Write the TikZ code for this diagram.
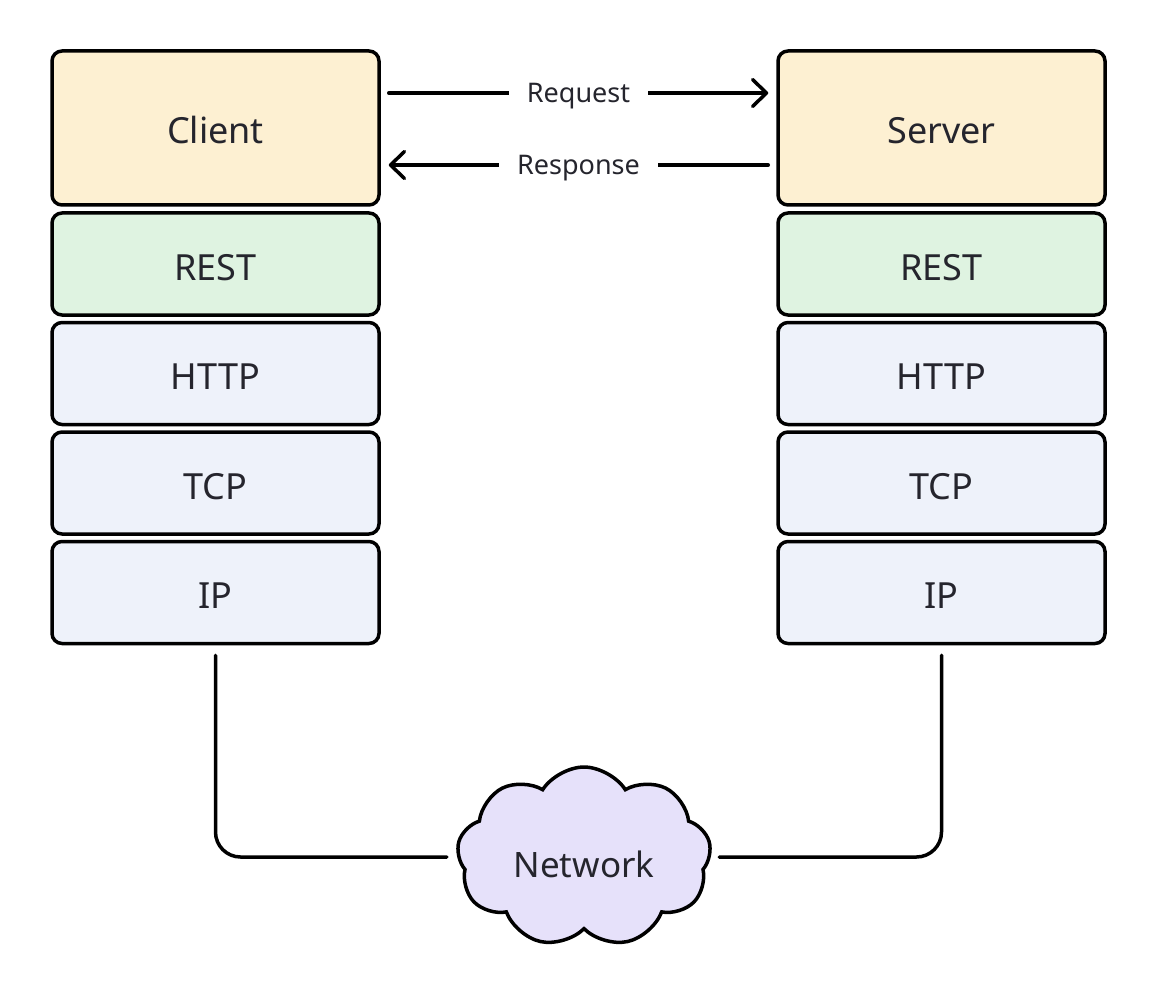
\documentclass[tikz,border=0pt]{standalone}
\usepackage{fontspec}
\setmainfont{Noto Sans}
\usetikzlibrary{arrows.meta,shapes.symbols}
\definecolor{appfill}{HTML}{FDF0D2}
\definecolor{restfill}{HTML}{DFF3E1}
\definecolor{layerfill}{HTML}{EEF2FA}
\definecolor{netfill}{HTML}{E6E1FA}
\definecolor{ink}{HTML}{25252D}
\begin{document}
\begin{tikzpicture}[x=1pt,y=1pt,
  layer/.style={draw=black, line width=3.5pt, rounded corners=10pt,
    minimum width=327pt, inner sep=0pt, text=ink,
    text height=32pt, text depth=0pt,
    font=\fontsize{36}{40}\selectfont},
  app/.style={layer, fill=appfill, minimum height=154pt},
  rest/.style={layer, fill=restfill, minimum height=102pt},
  proto/.style={layer, fill=layerfill, minimum height=102pt},
  wire/.style={line width=3.5pt, line cap=round},
  msg/.style={fill=white, text=ink, inner xsep=18pt, inner ysep=4pt,
    text height=20pt, text depth=0pt,
    font=\fontsize{27}{30}\selectfont},
  tip/.style={-{Straight Barb[length=14pt,width=27pt,line cap=round,line join=round]}},
]
\useasboundingbox (0,0) rectangle (1158,-1000);
\fill[white] (0,0) rectangle (1158,-1000);

% client stack
\node[app]   (client) at (215.5,-128)   {Client};
\node[rest]  (rest1)  at (215.5,-264)   {REST};
\node[proto] (http1)  at (215.5,-373.5) {HTTP};
\node[proto] (tcp1)   at (215.5,-483)   {TCP};
\node[proto] (ip1)    at (215.5,-592.5) {IP};

% server stack
\node[app]   (server) at (941.5,-128)   {Server};
\node[rest]  (rest2)  at (941.5,-264)   {REST};
\node[proto] (http2)  at (941.5,-373.5) {HTTP};
\node[proto] (tcp2)   at (941.5,-483)   {TCP};
\node[proto] (ip2)    at (941.5,-592.5) {IP};

% network cloud
\node[cloud, cloud puffs=9, cloud puff arc=115, aspect=1.4,
      draw=black, line width=3.5pt, fill=netfill, text=ink,
      minimum width=254pt, minimum height=180pt, inner sep=0pt,
      text height=41pt, text depth=0pt,
      font=\fontsize{35}{40}\selectfont] (net) at (584,-857) {Network};

% request / response
\draw[wire, tip] ([xshift=8pt,yshift=35pt]client.east)
  -- node[msg] {Request} ([xshift=-8pt,yshift=35pt]server.west);
\draw[wire, tip] ([xshift=-8pt,yshift=-37pt]server.west)
  -- node[msg] {Response} ([xshift=8pt,yshift=-37pt]client.east);

% links to the network
\draw[wire, rounded corners=25pt] ([yshift=-10pt]ip1.south) |- ([xshift=-10pt]net.west);
\draw[wire, rounded corners=25pt] ([yshift=-10pt]ip2.south) |- ([xshift=8pt]net.east);
\end{tikzpicture}
\end{document}
